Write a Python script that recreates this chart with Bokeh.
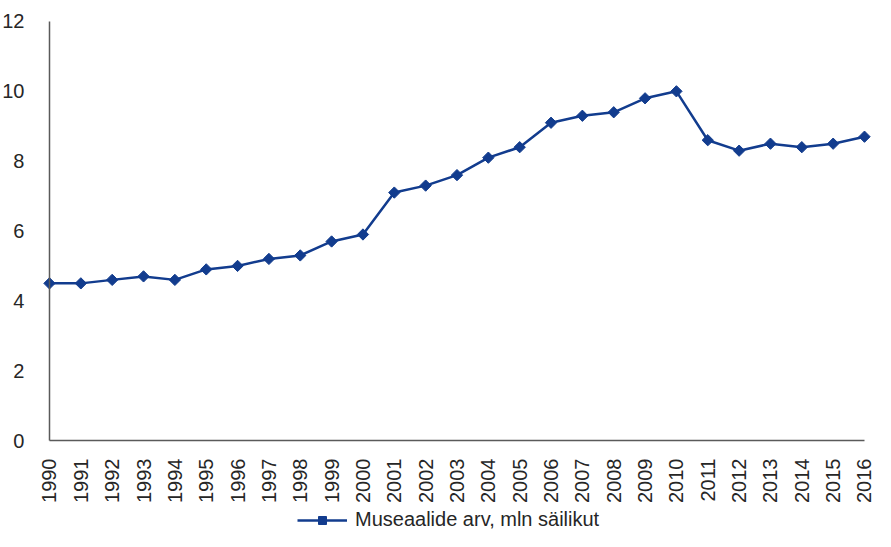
import math
from bokeh.plotting import figure
from bokeh.models import Range1d, FixedTicker, Legend, LegendItem
from bokeh.embed import file_html
from bokeh.resources import INLINE

years = list(range(1990, 2017))
values = [4.5, 4.5, 4.6, 4.7, 4.6, 4.9, 5.0, 5.2, 5.3, 5.7, 5.9, 7.1, 7.3, 7.6,
          8.1, 8.4, 9.1, 9.3, 9.4, 9.8, 10.0, 8.6, 8.3, 8.5, 8.4, 8.5, 8.7]
y_ticks = [0, 2, 4, 6, 8, 10, 12]
series_label = "Museaalide arv, mln säilikut"

color = "#123c8e"
font = "Liberation Sans"

p = figure(width=875, height=531, output_backend="svg", toolbar_location=None,
           x_range=Range1d(1988.437, 2016.351), y_range=Range1d(-2.606, 12.601))
p.min_border_left = 0
p.min_border_right = 0
p.min_border_top = 0
p.min_border_bottom = 0
p.outline_line_color = None
p.xgrid.grid_line_color = None
p.ygrid.grid_line_color = None

line = p.line(years, values, line_color=color, line_width=2.5)
pts = p.scatter(years, values, marker="square", size=8, angle=math.pi / 4,
                fill_color=color, line_color=color, line_width=1)

p.xaxis.ticker = FixedTicker(ticks=years)
p.yaxis.ticker = FixedTicker(ticks=y_ticks)
p.yaxis.bounds = (0, 12)
p.xaxis.bounds = (1990, 2016)
p.xaxis.fixed_location = 0
p.yaxis.fixed_location = 1990
for ax in (p.xaxis, p.yaxis):
    ax.major_tick_line_color = None
    ax.minor_tick_line_color = None
    ax.axis_line_color = "#5a5a5a"
    ax.axis_line_width = 1.5
    ax.major_label_text_font = font
    ax.major_label_text_font_size = "20px"
    ax.major_label_text_color = "#262626"
p.xaxis.major_label_orientation = math.pi / 2
p.xaxis.major_label_standoff = 12
p.yaxis.major_label_standoff = 19

legend = Legend(items=[LegendItem(label=series_label, renderers=[line, pts])],
                orientation="horizontal", location=(297, 0))
legend.label_text_font = font
legend.label_text_font_size = "20px"
legend.label_text_color = "#262626"
legend.border_line_color = None
legend.background_fill_alpha = 0
legend.glyph_width = 50
legend.margin = 0
legend.padding = 0
legend.label_standoff = 8
p.add_layout(legend, "center")

open("out.html", "w").write(file_html(p, INLINE))
